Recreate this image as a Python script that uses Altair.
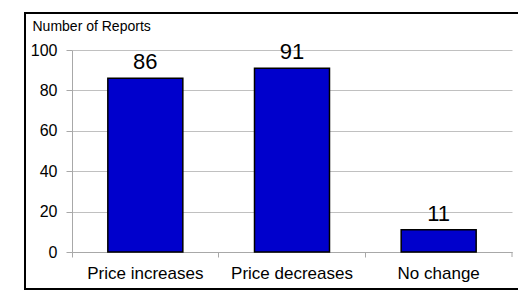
import altair as alt
import pandas as pd

categories = ["Price increases", "Price decreases", "No change"]
reports = [86, 91, 11]
y_ticks = [0, 20, 40, 60, 80, 100]
y_title = "Number of Reports"

df = pd.DataFrame({"category": categories, "reports": reports})
FONT = "Liberation Sans"
GRAY = "#a8a8a8"

x = alt.X(
    "category:N",
    sort=categories,
    scale=alt.Scale(paddingInner=0, paddingOuter=0),
    axis=alt.Axis(
        title=None, labelAngle=0, bandPosition=0, tickSize=5, labelPadding=8,
        labelFontSize=17, labelColor="black", labelFont=FONT,
        domainColor=GRAY, tickColor=GRAY, grid=False,
    ),
)
y = alt.Y(
    "reports:Q",
    scale=alt.Scale(domain=[0, 100], nice=False),
    axis=alt.Axis(
        values=y_ticks, title=y_title, titleAngle=0, titleX=-40, titleY=-20,
        titleAlign="left", titleBaseline="alphabetic", titleFontSize=14,
        titleFontWeight="normal", titleFont=FONT, titleColor="black",
        tickSize=6, labelPadding=9, labelFontSize=16, labelFont=FONT,
        labelColor="black", gridColor="#c0c0c0", domainColor=GRAY, tickColor=GRAY,
    ),
)

base = alt.Chart(df)
bars = base.mark_bar(size=75, color="#0000CC", stroke="black", strokeWidth=1.5).encode(x=x, y=y)
labels = base.mark_text(baseline="bottom", dy=-4, fontSize=22, font=FONT, color="black").encode(
    x=alt.X("category:N", sort=categories), y="reports:Q", text="reports:Q"
)

frame_df = pd.DataFrame({"k": [0]})
end_tick = alt.Chart(frame_df).mark_rule(color=GRAY).encode(
    x=alt.value(440), y=alt.value(202), y2=alt.value(207)
)
frame = alt.Chart(frame_df).mark_rect(fill=None, stroke="black", strokeWidth=2).encode(
    x=alt.value(-47), x2=alt.value(470), y=alt.value(-37), y2=alt.value(239)
)

chart = (
    alt.layer(bars, labels, end_tick, frame)
    .properties(
        width=440, height=202,
        padding={"left": 64, "top": 42, "right": 6, "bottom": 40},
        autosize=alt.AutoSizeParams(type="none"),
    )
    .configure_view(stroke=None)
)

chart.save("out.html", embed_options={"renderer": "svg", "actions": False})
